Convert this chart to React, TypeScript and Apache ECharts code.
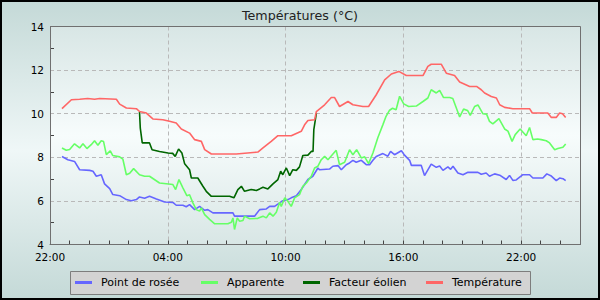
import React, { useEffect, useRef } from "react";
import * as echarts from "echarts";

// Hours counted from 22:00 on the first day
const majorHours = [0, 6, 12, 18, 24];
const majorLabels = ["22:00", "04:00", "10:00", "16:00", "22:00"];
const seriesNames = ["Point de rosée", "Apparente", "Facteur éolien", "Température"];

const dewTimes = [0.61, 0.91, 1.25, 1.51, 2.02, 2.19, 2.36, 2.61, 2.78, 3.04, 3.2, 3.55, 3.89, 4.14, 4.4, 4.56, 4.82, 5.07, 5.42, 5.84, 6.26, 6.43, 6.77, 6.94, 7.11, 7.37, 7.62, 7.88, 8.04, 8.3, 9.32, 9.4, 10.42, 10.68, 11.02, 11.19, 11.44, 11.7, 11.86, 12.12, 12.29, 12.55, 12.8, 13.14, 13.39, 13.65, 13.73, 14.24, 14.41, 14.67, 14.84, 15.09, 15.26, 15.43, 15.6, 15.86, 16.11, 16.28, 16.45, 16.62, 16.96, 17.21, 17.35, 17.55, 17.9, 18.06, 18.32, 18.41, 18.91, 19.08, 19.42, 19.68, 19.85, 20.02, 20.27, 20.41, 20.53, 20.78, 21.04, 21.29, 21.8, 21.97, 22.22, 22.39, 22.65, 22.91, 23.24, 23.41, 23.58, 23.75, 24.09, 24.43, 24.6, 25.11, 25.31, 25.54, 25.79, 25.96, 26.13, 26.27];
const dewValues = [8.04, 7.89, 7.81, 7.43, 7.4, 7.36, 7.13, 7.2, 6.78, 6.56, 6.29, 6.24, 6.06, 6.01, 6.06, 6.18, 6.12, 6.21, 6.09, 5.95, 5.93, 5.8, 5.8, 5.73, 5.83, 5.6, 5.75, 5.57, 5.6, 5.45, 5.45, 5.3, 5.3, 5.6, 5.63, 5.75, 5.75, 5.91, 6.01, 6.06, 6.14, 6.24, 6.52, 6.98, 7.13, 7.51, 7.43, 7.46, 7.59, 7.62, 7.43, 7.66, 7.74, 7.86, 7.77, 7.86, 7.66, 7.66, 7.86, 8.04, 8.17, 8.05, 8.27, 8.12, 8.3, 8.1, 7.86, 7.63, 7.63, 7.16, 7.69, 7.54, 7.6, 7.4, 7.56, 7.45, 7.59, 7.28, 7.2, 7.31, 7.31, 7.22, 7.28, 7.13, 7.24, 7.18, 6.98, 7.17, 6.94, 6.96, 7.2, 7.2, 7.05, 7.05, 7.24, 7.14, 6.93, 7.05, 7.02, 6.93];

const appTimes = [0.61, 0.83, 1.0, 1.25, 1.51, 1.68, 1.88, 2.1, 2.27, 2.44, 2.61, 2.73, 2.87, 3.07, 3.2, 3.55, 3.71, 3.89, 4.06, 4.26, 4.56, 4.82, 5.07, 5.58, 5.92, 6.26, 6.4, 6.57, 6.77, 6.97, 7.11, 7.28, 7.45, 7.62, 7.71, 7.88, 8.13, 8.39, 9.06, 9.24, 9.32, 9.4, 9.54, 9.66, 9.83, 9.91, 10.17, 10.59, 10.85, 11.02, 11.19, 11.36, 11.53, 11.7, 11.78, 11.96, 12.12, 12.29, 12.46, 12.71, 12.88, 13.06, 13.31, 13.48, 13.65, 13.82, 13.99, 14.16, 14.58, 14.75, 15.01, 15.26, 15.43, 15.62, 15.86, 16.03, 16.23, 16.45, 16.7, 16.96, 17.12, 17.3, 17.45, 17.63, 17.81, 18.02, 18.27, 18.66, 19.0, 19.25, 19.42, 19.68, 19.85, 20.05, 20.36, 20.52, 20.7, 20.87, 21.07, 21.27, 21.41, 21.63, 21.8, 22.05, 22.24, 22.39, 22.56, 22.87, 23.16, 23.33, 23.54, 23.7, 23.95, 24.26, 24.43, 24.6, 24.84, 25.03, 25.28, 25.45, 25.71, 25.87, 26.13, 26.27];
const appValues = [8.43, 8.32, 8.36, 8.62, 8.43, 8.62, 8.4, 8.58, 8.76, 8.55, 8.76, 8.72, 8.12, 8.3, 8.08, 8.02, 7.92, 7.2, 7.27, 7.48, 7.2, 7.13, 7.13, 6.82, 6.79, 6.75, 6.52, 6.98, 6.6, 6.24, 6.28, 5.91, 5.6, 5.53, 5.68, 5.37, 5.15, 4.95, 4.95, 5.02, 5.22, 4.69, 5.22, 5.07, 5.1, 5.3, 5.18, 5.2, 5.3, 5.22, 5.45, 5.3, 5.48, 5.94, 5.75, 6.14, 5.98, 5.75, 6.14, 6.29, 6.67, 6.82, 7.13, 7.51, 7.59, 7.89, 8.04, 7.89, 8.32, 7.66, 7.77, 8.35, 8.12, 8.35, 7.97, 8.02, 7.71, 8.2, 8.9, 9.5, 9.88, 10.16, 10.25, 10.18, 10.8, 10.45, 10.33, 10.35, 10.56, 10.72, 11.1, 10.95, 11.07, 10.74, 10.74, 10.7, 10.26, 9.85, 10.21, 10.15, 9.92, 10.33, 10.4, 10.0, 9.98, 9.65, 9.53, 9.77, 9.3, 9.2, 8.73, 9.04, 9.3, 8.99, 9.37, 8.81, 8.84, 8.81, 8.76, 8.66, 8.35, 8.4, 8.46, 8.61];

const chillTimes = [4.56, 4.6, 4.7, 5.07, 5.2, 5.58, 6.01, 6.25, 6.38, 6.55, 6.72, 6.86, 7.11, 7.2, 7.53, 7.79, 7.96, 8.22, 9.15, 9.37, 9.57, 9.75, 9.91, 10.25, 10.51, 10.68, 10.85, 11.1, 11.36, 11.61, 11.75, 11.86, 12.04, 12.21, 12.37, 12.55, 12.71, 12.88, 13.14, 13.31, 13.4, 13.44, 13.57];
const chillValues = [10.08, 9.34, 8.66, 8.66, 8.35, 8.27, 8.2, 8.18, 8.04, 8.38, 8.2, 7.7, 7.43, 7.05, 7.05, 6.67, 6.44, 6.21, 6.21, 6.14, 6.52, 6.67, 6.44, 6.52, 6.48, 6.55, 6.63, 6.55, 6.78, 6.98, 7.36, 7.2, 7.51, 7.16, 7.43, 7.4, 7.56, 8.08, 8.1, 8.27, 8.27, 9.27, 10.03];

const tempTimes = [0.61, 1.09, 1.51, 1.92, 2.27, 2.53, 3.38, 3.55, 3.89, 4.4, 4.56, 4.91, 5.24, 5.75, 6.09, 6.43, 6.69, 7.11, 7.37, 7.71, 7.88, 8.22, 9.49, 10.59, 10.85, 11.27, 11.61, 12.29, 12.8, 12.97, 13.14, 13.48, 13.57, 13.99, 14.33, 14.5, 14.75, 15.18, 15.43, 15.94, 16.23, 16.62, 17.05, 17.39, 17.77, 18.15, 19.0, 19.25, 19.42, 19.93, 20.19, 20.61, 20.87, 21.38, 21.73, 21.97, 22.14, 22.48, 22.74, 22.91, 23.16, 23.58, 24.43, 24.57, 25.36, 25.54, 25.79, 25.96, 26.11, 26.27];
const tempValues = [10.23, 10.64, 10.66, 10.7, 10.66, 10.7, 10.66, 10.44, 10.26, 10.23, 10.1, 10.03, 9.76, 9.72, 9.65, 9.57, 9.3, 9.11, 8.81, 8.73, 8.35, 8.15, 8.15, 8.24, 8.43, 8.73, 8.99, 8.99, 9.19, 9.49, 9.69, 9.72, 10.1, 10.41, 10.74, 10.74, 10.33, 10.56, 10.41, 10.33, 10.33, 10.87, 11.55, 11.82, 11.94, 11.75, 11.75, 12.17, 12.27, 12.27, 11.86, 11.75, 11.45, 11.25, 11.25, 11.1, 10.95, 10.79, 10.72, 10.41, 10.29, 10.23, 10.23, 10.03, 10.03, 9.83, 9.83, 10.03, 10.0, 9.83];

const colors = ["#6666ff", "#66ff66", "#006600", "#ff6666"];
const legendLeft = [75, 201, 303, 426];
const FONT = "DejaVu Sans";

const pairs = (t: number[], v: number[]) => t.map((x, i) => [x, v[i]]);

export default function App() {
  const ref = useRef<HTMLDivElement>(null);
  useEffect(() => {
    if (!ref.current) return;
    const chart = echarts.init(ref.current, null, { renderer: "svg" });
    const data = [
      pairs(dewTimes, dewValues),
      pairs(appTimes, appValues),
      pairs(chillTimes, chillValues),
      pairs(tempTimes, tempValues),
    ];
    const dashed = { show: true, lineStyle: { color: "#b9b9b9", type: [4, 3], width: 1 } };
    chart.setOption({
      animation: false,
      backgroundColor: {
        type: "linear", x: 0, y: 0, x2: 0, y2: 1,
        colorStops: [
          { offset: 0, color: "#c4d9d7" },
          { offset: 0.5, color: "#eff7f7" },
          { offset: 1, color: "#c4d9d7" },
        ],
      },
      title: {
        text: "Températures (°C)",
        left: "center",
        top: 4,
        textStyle: { fontSize: 12.7, fontWeight: "normal", color: "#222", fontFamily: FONT },
      },
      grid: {
        left: 50, right: 20, top: 26.5, height: 218,
        show: true, borderWidth: 0,
        backgroundColor: {
          type: "linear", x: 0, y: 0, x2: 0, y2: 1,
          colorStops: [
            { offset: 0, color: "#d8e6e5" },
            { offset: 0.5, color: "#f7fcfc" },
            { offset: 1, color: "#d8e6e5" },
          ],
        },
      },
      xAxis: [
        {
          type: "value", min: 0, max: 27, interval: 6,
          axisLine: { show: true, lineStyle: { color: "#707070" } },
          axisTick: { show: false },
          axisLabel: {
            showMaxLabel: false, margin: 7, fontSize: 10.5, color: "#000", fontFamily: FONT,
            formatter: (v: number) => { const i = majorHours.indexOf(v); return i >= 0 ? majorLabels[i] : ""; },
          },
          splitLine: dashed,
        },
        {
          type: "value", min: 0, max: 27, interval: 1, position: "bottom",
          axisLine: { show: false },
          axisTick: { show: true, inside: true, length: 4, lineStyle: { color: "#444" } },
          axisLabel: { show: false },
          splitLine: { show: false },
        },
      ],
      yAxis: {
        type: "value", min: 4, max: 14, interval: 2,
        axisLine: { show: true, lineStyle: { color: "#707070" } },
        axisTick: { show: false, inside: true, length: 4, lineStyle: { color: "#444" } },
        minorTick: { show: true, splitNumber: 2, length: 4, lineStyle: { color: "#444" } },
        axisLabel: { margin: 6, fontSize: 10.5, color: "#000", fontFamily: FONT },
        splitLine: dashed,
      },
      legend: seriesNames.map((n, i) => ({
        data: [n], left: legendLeft[i], top: 277, padding: 0,
        icon: "rect", itemWidth: 17, itemHeight: 3, selectedMode: false,
        textStyle: { fontSize: 11, color: "#000", fontFamily: FONT, padding: [0, 0, 0, 4] },
      })),
      graphic: [
        { type: "rect", z: 1, shape: { x: 70.5, y: 271.5, width: 460, height: 23 }, style: { fill: "#d3d3d3", stroke: "#7d7d7d", lineWidth: 1 } },
        { type: "rect", z: 100, shape: { x: 50.5, y: 26.5, width: 530, height: 218 }, style: { fill: "none", stroke: "#707070", lineWidth: 1 } },
        { type: "rect", z: 100, shape: { x: 1, y: 1, width: 598, height: 298 }, style: { fill: "none", stroke: "#000", lineWidth: 2 } },
      ],
      series: seriesNames.map((n, i) => ({
        name: n, type: "line", data: data[i], showSymbol: false, xAxisIndex: 0,
        lineStyle: { color: colors[i], width: 1.6 }, itemStyle: { color: colors[i] },
        emphasis: { disabled: true },
      })),
    });
    return () => chart.dispose();
  }, []);
  return <div ref={ref} style={{ position: "absolute", left: 0, top: 0, width: 600, height: 300 }} />;
}
